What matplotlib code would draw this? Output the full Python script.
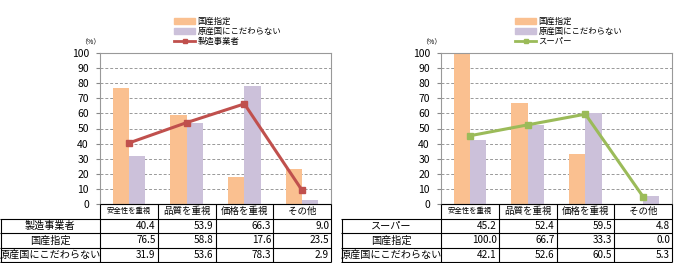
import numpy as np
import matplotlib
matplotlib.use("Agg")
import matplotlib.pyplot as plt
from matplotlib.lines import Line2D
from matplotlib.patches import Patch

plt.rcParams['font.family'] = ['Noto Sans CJK JP', 'DejaVu Sans']

categories = ['安全性を重視', '品質を重視', '価格を重視', 'その他']
series_names = ['国産指定', '原産国にこだわらない']

maker_name = '製造事業者'
maker_line = [40.4, 53.9, 66.3, 9.0]
maker_domestic = [76.5, 58.8, 17.6, 23.5]
maker_any = [31.9, 53.6, 78.3, 2.9]

super_name = 'スーパー'
super_line = [45.2, 52.4, 59.5, 4.8]
super_domestic = [100.0, 66.7, 33.3, 0.0]
super_any = [42.1, 52.6, 60.5, 5.3]

orange = '#FAC090'
lavender = '#CCC1DA'
W, H = 678, 263


def px_axes(fig, x0, y0, x1, y1):
    return fig.add_axes([x0 / W, 1 - y1 / H, (x1 - x0) / W, (y1 - y0) / H])


def draw_table(tx, x0, line_name, rows):
    # tx is a full-figure axes in pixel coordinates (y down)
    col_w, row_h, top = 57.75, 14.5, 204
    lab_x = x0 - 100
    n = len(categories)
    right = x0 + n * col_w
    kw = dict(color='black', lw=0.8)
    # header row (only over data columns)
    tx.hlines(top, x0, right, **kw)
    for j, cat in enumerate(categories):
        tx.text(x0 + (j + 0.5) * col_w, top + row_h / 2, cat, ha='center', va='center',
                fontsize=5.3 if j == 0 else 6.8)
    labels = [line_name] + series_names
    for i, (lab, vals) in enumerate(zip(labels, rows)):
        y0 = top + (i + 1) * row_h
        tx.hlines(y0, lab_x, right, **kw)
        tx.text(lab_x + 50, y0 + row_h / 2, lab, ha='center', va='center', fontsize=7.3)
        for j, v in enumerate(vals):
            tx.text(x0 + (j + 1) * col_w - 2, y0 + row_h / 2, '%.1f' % v,
                    ha='right', va='center', fontsize=7.2)
    bottom = top + (len(rows) + 1) * row_h
    tx.hlines(bottom, lab_x, right, **kw)
    tx.vlines(lab_x + 0.5, top + row_h, bottom, **kw)
    for j in range(n + 1):
        tx.vlines(x0 + j * col_w, top, bottom, **kw)


def draw_panel(fig, tx, x0, line_name, line_vals, dom, anyc, line_color):
    ax = px_axes(fig, x0, 53, x0 + 231, 204)
    x = np.arange(len(categories))
    bw = 0.28
    ax.bar(x - bw / 2, dom, bw, color=orange, zorder=2)
    ax.bar(x + bw / 2, anyc, bw, color=lavender, zorder=2)
    ax.plot(x, line_vals, color=line_color, lw=2.2, marker='s', ms=5, zorder=3)
    ax.set_xlim(-0.5, len(categories) - 0.5)
    ax.set_ylim(0, 100)
    ax.set_yticks(range(0, 101, 10))
    ax.set_xticks([])
    ax.yaxis.grid(True, ls=(0, (3, 2)), color='#999999', lw=0.7, zorder=0)
    ax.tick_params(axis='y', labelsize=7.5, length=3, color='#888888', pad=5)
    for s in ax.spines.values():
        s.set_color('#999999')
        s.set_linewidth(0.8)
    ax.text(-0.04, 1.055, '（%）', transform=ax.transAxes, fontsize=5, ha='center')

    handles = [Patch(color=orange), Patch(color=lavender),
               Line2D([], [], color=line_color, lw=2, marker='s', ms=3)]
    ax.legend(handles, series_names + [line_name], loc='lower left',
              bbox_to_anchor=(0.3, 1.015), frameon=False, fontsize=6,
              handlelength=2.5, handleheight=0.6, labelspacing=0.1,
              borderpad=0.1, handletextpad=0.3)

    draw_table(tx, x0, line_name, [line_vals, dom, anyc])
    return ax


fig = plt.figure(figsize=(W / 100, H / 100), dpi=100)
tx = fig.add_axes([0, 0, 1, 1], zorder=5)
tx.set_xlim(0, W)
tx.set_ylim(H, 0)
tx.axis('off')
tx.patch.set_alpha(0)

draw_panel(fig, tx, 100, maker_name, maker_line, maker_domestic, maker_any, '#C0504D')
draw_panel(fig, tx, 441, super_name, super_line, super_domestic, super_any, '#9BBB59')
fig.savefig('out.png', dpi=100)
